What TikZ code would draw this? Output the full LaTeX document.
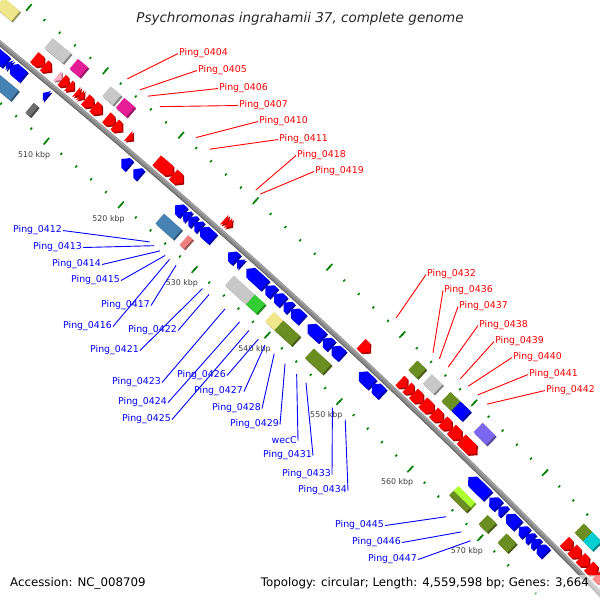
\documentclass[tikz,border=0pt]{standalone}
\usepackage{fontspec}
\setmainfont{DejaVu Sans}

\definecolor{fred}{RGB}{255,0,0}
\definecolor{rblue}{RGB}{0,0,255}
\definecolor{fpink}{RGB}{255,175,195}
\definecolor{bkhaki}{RGB}{240,230,140}
\definecolor{bgray}{RGB}{200,200,200}
\definecolor{bmagenta}{RGB}{230,30,150}
\definecolor{bsteel}{RGB}{70,130,180}
\definecolor{bdim}{RGB}{110,110,110}
\definecolor{bcoral}{RGB}{240,128,128}
\definecolor{blime}{RGB}{50,205,50}
\definecolor{bolive}{RGB}{107,142,35}
\definecolor{bygreen}{RGB}{173,255,47}
\definecolor{bslate}{RGB}{123,104,238}
\definecolor{bcyan}{RGB}{0,206,209}
\definecolor{bbgray}{RGB}{138,138,138}
\definecolor{tickgreen}{RGB}{0,128,0}
\definecolor{kbpgray}{RGB}{60,60,60}

% angle of a genome position (kbp) on the map
\newcommand{\kb}[1]{(90.216-0.078954*(#1))}
% forward gene, clockwise arrow outside the backbone
\newcommand{\fgene}[3]{%
  \pgfmathsetmacro\gA{\kb{#1}}%
  \pgfmathsetmacro\gC{\kb{#2}}%
  \pgfmathsetmacro\gB{min(\gA,\gC+0.047)}%
  \fill[#3!65!black,xshift=1.4pt,yshift=-1.6pt] (\gA:7164.5) -- (\gA:7177.5) -- (\gB:7177.5) -- (\gC:7171) -- (\gB:7164.5) -- cycle;
  \fill[#3] (\gA:7164.5) -- (\gA:7177.5) -- (\gB:7177.5) -- (\gC:7171) -- (\gB:7164.5) -- cycle;
}
% reverse gene, arrow inside the backbone
\newcommand{\rgene}[3]{%
  \pgfmathsetmacro\gA{\kb{#1}}%
  \pgfmathsetmacro\gC{\kb{#2}}%
  \pgfmathsetmacro\gB{max(\gC,\gA-0.047)}%
  \fill[#3!65!black,xshift=1.4pt,yshift=-1.6pt] (\gC:7142.5) -- (\gC:7155.5) -- (\gB:7155.5) -- (\gA:7149) -- (\gB:7142.5) -- cycle;
  \fill[#3] (\gC:7142.5) -- (\gC:7155.5) -- (\gB:7155.5) -- (\gA:7149) -- (\gB:7142.5) -- cycle;
}
% category box between two radii
\newcommand{\cogbox}[5]{%
  \pgfmathsetmacro\gA{\kb{#1}}%
  \pgfmathsetmacro\gC{\kb{#2}}%
  \fill[#5!65!black,xshift=1.4pt,yshift=-1.6pt] (\gA:#3) -- (\gA:#4) -- (\gC:#4) -- (\gC:#3) -- cycle;
  \fill[#5] (\gA:#3) -- (\gA:#4) -- (\gC:#4) -- (\gC:#3) -- cycle;
}
\newcommand{\obox}[3]{\cogbox{#1}{#2}{7184.5}{7197.5}{#3}}
\newcommand{\ibox}[3]{\cogbox{#1}{#2}{7122.5}{7135.5}{#3}}

\tikzset{
  backbone/.style={line width=5pt,bbgray},
  tick/.style={draw=tickgreen,line width=1.6pt},
  kbp/.style={text=kbpgray,font=\fontsize{7.9}{9}\selectfont,inner sep=0pt},
  flab/.style={text=red,font=\fontsize{9.4}{11}\selectfont,inner sep=1pt,anchor=base west},
  rlab/.style={text=blue,font=\fontsize{9.4}{11}\selectfont,inner sep=1pt,anchor=base east},
  fline/.style={red,line width=0.9pt},
  rline/.style={blue,line width=0.9pt},
  foot/.style={font=\fontsize{11.8}{13}\selectfont,inner sep=0pt},
}

\begin{document}
\begin{tikzpicture}[x=1pt,y=1pt]
  \useasboundingbox (0,0) rectangle (600,600);
  \clip (0,0) rectangle (600,600);

  \begin{scope}[shift={(-4530.9,-4986.8)}]
    % backbone
    \draw[backbone] (51.3:7160) arc[start angle=51.3, end angle=43.8, radius=7160];
    \draw[bbgray!75!black,line width=1pt] (51.3:7157.8) arc[start angle=51.3, end angle=43.8, radius=7157.8];
    \draw[bbgray!75!white,line width=1pt] (51.3:7161.4) arc[start angle=51.3, end angle=43.8, radius=7161.4];

    % rulers
    \foreach \k in {496,498,...,584} {
      \draw[tick] ({\kb{\k}}:7204.8) -- ({\kb{\k}}:7207.3);
      \draw[tick] ({\kb{\k}}:7112.8) -- ({\kb{\k}}:7115.3);
    }
    \foreach \k in {500,510,...,580} {
      \draw[tick] ({\kb{\k}}:7201.7) -- ({\kb{\k}}:7210.3);
      \draw[tick] ({\kb{\k}}:7109.7) -- ({\kb{\k}}:7118.3);
    }
    \foreach \k in {510,520,...,570}
      \node[kbp] (k\k) at ({\kb{\k}}:7095) {\k\ kbp};

    % outer boxes
    \obox{497.4}{499.5}{bkhaki}
    \obox{503.8}{505.0}{bgray}
    \obox{505.0}{506.2}{bgray}
    \obox{507.1}{508.4}{bmagenta}
    \obox{511.4}{512.8}{bgray}
    \obox{513.2}{514.6}{bmagenta}
    \obox{552.9}{554.1}{bolive}
    \obox{554.9}{556.4}{bgray}
    \obox{557.5}{558.9}{bolive}
    \obox{558.9}{560.3}{rblue}
    \obox{562.0}{563.8}{bslate}
    \obox{576.4}{577.6}{bolive}
    \obox{577.6}{578.9}{bcyan}

    % forward genes
    \fgene{503.6}{504.9}{fred}
    \fgene{504.9}{505.8}{fred}
    \fgene{506.6}{507.2}{fpink}
    \fgene{507.2}{508.1}{fred}
    \fgene{508.1}{508.8}{fred}
    \fgene{509.1}{509.6}{fred}
    \fgene{509.6}{510.1}{fred}
    \fgene{510.3}{511.4}{fred}
    \fgene{511.4}{512.5}{fred}
    \fgene{513.1}{514.2}{fred}
    \fgene{514.2}{515.2}{fred}
    \fgene{516.0}{516.6}{fred}
    \fgene{519.8}{522.0}{fred}
    \fgene{522.0}{523.3}{fred}
    \fgene{528.9}{529.4}{fred}
    \fgene{529.4}{529.9}{fred}
    \fgene{547.6}{548.8}{fred}
    \fgene{553.0}{554.0}{fred}
    \fgene{554.0}{554.9}{fred}
    \fgene{554.9}{556.2}{fred}
    \fgene{556.2}{557.7}{fred}
    \fgene{557.7}{559.0}{fred}
    \fgene{559.0}{560.2}{fred}
    \fgene{560.2}{561.6}{fred}
    \fgene{561.6}{563.7}{fred}
    \fgene{576.3}{577.4}{fred}
    \fgene{577.4}{578.6}{fred}
    \fgene{578.6}{579.8}{fred}
    \fgene{579.8}{581.0}{fred}
    \fgene{581.0}{582.2}{fred}

    % reverse genes
    \rgene{499.5}{501.7}{rblue}
    \rgene{501.8}{502.2}{rblue}
    \rgene{502.2}{504.0}{rblue}
    \rgene{506.6}{507.1}{rblue}
    \rgene{517.0}{518.0}{rblue}
    \rgene{518.6}{519.5}{rblue}
    \rgene{524.2}{525.3}{rblue}
    \rgene{525.3}{526.0}{rblue}
    \rgene{526.0}{526.8}{rblue}
    \rgene{526.8}{527.6}{rblue}
    \rgene{527.6}{529.3}{rblue}
    \rgene{531.4}{532.5}{rblue}
    \rgene{532.6}{533.2}{rblue}
    \rgene{533.9}{536.4}{rblue}
    \rgene{536.5}{537.6}{rblue}
    \rgene{537.7}{538.9}{rblue}
    \rgene{539.0}{539.9}{rblue}
    \rgene{540.0}{541.5}{rblue}
    \rgene{542.3}{544.3}{rblue}
    \rgene{544.4}{545.5}{rblue}
    \rgene{545.6}{547.0}{rblue}
    \rgene{549.4}{551.2}{rblue}
    \rgene{551.2}{552.6}{rblue}
    \rgene{564.8}{567.5}{rblue}
    \rgene{567.8}{569.0}{rblue}
    \rgene{569.1}{569.9}{rblue}
    \rgene{570.2}{571.8}{rblue}
    \rgene{572.0}{573.0}{rblue}
    \rgene{573.0}{573.8}{rblue}
    \rgene{573.8}{574.6}{rblue}
    \rgene{574.6}{575.8}{rblue}

    % inner boxes
    \ibox{502.0}{504.5}{bsteel}
    \ibox{506.5}{507.1}{bdim}
    \ibox{523.9}{525.1}{bsteel}
    \ibox{525.1}{526.3}{bsteel}
    \ibox{527.2}{527.8}{bcoral}
    \ibox{533.4}{536.3}{bgray}
    \ibox{536.3}{537.7}{blime}
    \ibox{538.9}{540.2}{bkhaki}
    \ibox{540.2}{541.4}{bolive}
    \ibox{541.4}{542.5}{bolive}
    \ibox{544.4}{545.6}{bolive}
    \ibox{545.6}{546.8}{bolive}
    \cogbox{564.7}{567.1}{7122.5}{7129}{bolive}
    \cogbox{564.7}{567.1}{7129}{7135.5}{bygreen}
    \ibox{568.9}{570.1}{bolive}
    \ibox{571.6}{573.0}{bolive}

    % label ends
    \foreach \n/\p in {0404/512.2,0405/513.9,0406/514.9,0407/516.5,0410/521.3,0411/523.1,
        0418/529.3,0419/529.9,0432/548.4,0436/553.5,0437/554.4,0438/555.6,
        0439/557.3,0440/558.4,0441/559.7,0442/561.0}
      \coordinate (p\n) at ({\kb{\p}}:7214);
    \foreach \n/\p in {0412/524.7,0413/525.3,0414/526.1,0415/526.8,0416/527.4,0417/528.3,
        0421/531.9,0422/532.8,0423/535.0,0424/537.0,0425/538.3,0426/539.6,
        0427/540.5,0428/541.8,0429/543.3,wecC/544.9,0431/546.2,0433/549.9,
        0434/551.7,0445/566.0,0446/568.2,0447/569.5}
      \coordinate (p\n) at ({\kb{\p}}:7105);
  \end{scope}

  % forward labels
  \node[flab] (l0404) at (178,544) {Ping\_0404};
  \node[flab] (l0405) at (197,527) {Ping\_0405};
  \node[flab] (l0406) at (218,509) {Ping\_0406};
  \node[flab] (l0407) at (238,492) {Ping\_0407};
  \node[flab] (l0410) at (258,476) {Ping\_0410};
  \node[flab] (l0411) at (278,458) {Ping\_0411};
  \node[flab] (l0418) at (296,442) {Ping\_0418};
  \node[flab] (l0419) at (314,426) {Ping\_0419};
  \node[flab] (l0432) at (426,323) {Ping\_0432};
  \node[flab] (l0436) at (443,307) {Ping\_0436};
  \node[flab] (l0437) at (458,291) {Ping\_0437};
  \node[flab] (l0438) at (478,272) {Ping\_0438};
  \node[flab] (l0439) at (494,256) {Ping\_0439};
  \node[flab] (l0440) at (512,240) {Ping\_0440};
  \node[flab] (l0441) at (528,223) {Ping\_0441};
  \node[flab] (l0442) at (545,207) {Ping\_0442};

  % reverse labels
  \node[rlab] (l0412) at (63,367) {Ping\_0412};
  \node[rlab] (l0413) at (83,350) {Ping\_0413};
  \node[rlab] (l0414) at (102,333) {Ping\_0414};
  \node[rlab] (l0415) at (121,317) {Ping\_0415};
  \node[rlab] (l0417) at (151,292) {Ping\_0417};
  \node[rlab] (l0416) at (113,271) {Ping\_0416};
  \node[rlab] (l0422) at (178,267) {Ping\_0422};
  \node[rlab] (l0421) at (140,247) {Ping\_0421};
  \node[rlab] (l0423) at (162,215) {Ping\_0423};
  \node[rlab] (l0424) at (168,195) {Ping\_0424};
  \node[rlab] (l0425) at (172,178) {Ping\_0425};
  \node[rlab] (l0426) at (227,222) {Ping\_0426};
  \node[rlab] (l0427) at (244,206) {Ping\_0427};
  \node[rlab] (l0428) at (262,189) {Ping\_0428};
  \node[rlab] (l0429) at (280,173) {Ping\_0429};
  \node[rlab] (lwecC) at (298,156) {wecC};
  \node[rlab] (l0431) at (313,142) {Ping\_0431};
  \node[rlab] (l0433) at (332,123) {Ping\_0433};
  \node[rlab] (l0434) at (348,107) {Ping\_0434};
  \node[rlab] (l0445) at (385,72) {Ping\_0445};
  \node[rlab] (l0446) at (402,55) {Ping\_0446};
  \node[rlab] (l0447) at (418,38) {Ping\_0447};

  \foreach \n in {0404,0405,0406,0407,0410,0411,0418,0419,0432,0436,0437,0438,0439,0440,0441,0442}
    \draw[fline] (l\n.west) -- (p\n);
  \foreach \n in {0412,0413,0414,0415,0416,0417,0421,0422,0423,0424,0425,0426,0427,0428,0429,wecC,0431,0433,0434,0445,0446,0447}
    \draw[rline] (l\n.east) -- (p\n);

  % title and footer
  \node[font=\fontsize{13.5}{15}\selectfont\itshape,text=black!85,inner sep=0pt,anchor=base] (title) at (300,577)
    {Psychromonas ingrahamii 37, complete genome};
  \fill[white,opacity=0.55] (0,0) rectangle (600,25);
  \node[foot,anchor=base west] (acc) at (10,13) {Accession: NC\_008709};
  \node[foot,anchor=base east] (topo) at (589,13) {Topology: circular; Length: 4,559,598 bp; Genes: 3,664};
\end{tikzpicture}
\end{document}
